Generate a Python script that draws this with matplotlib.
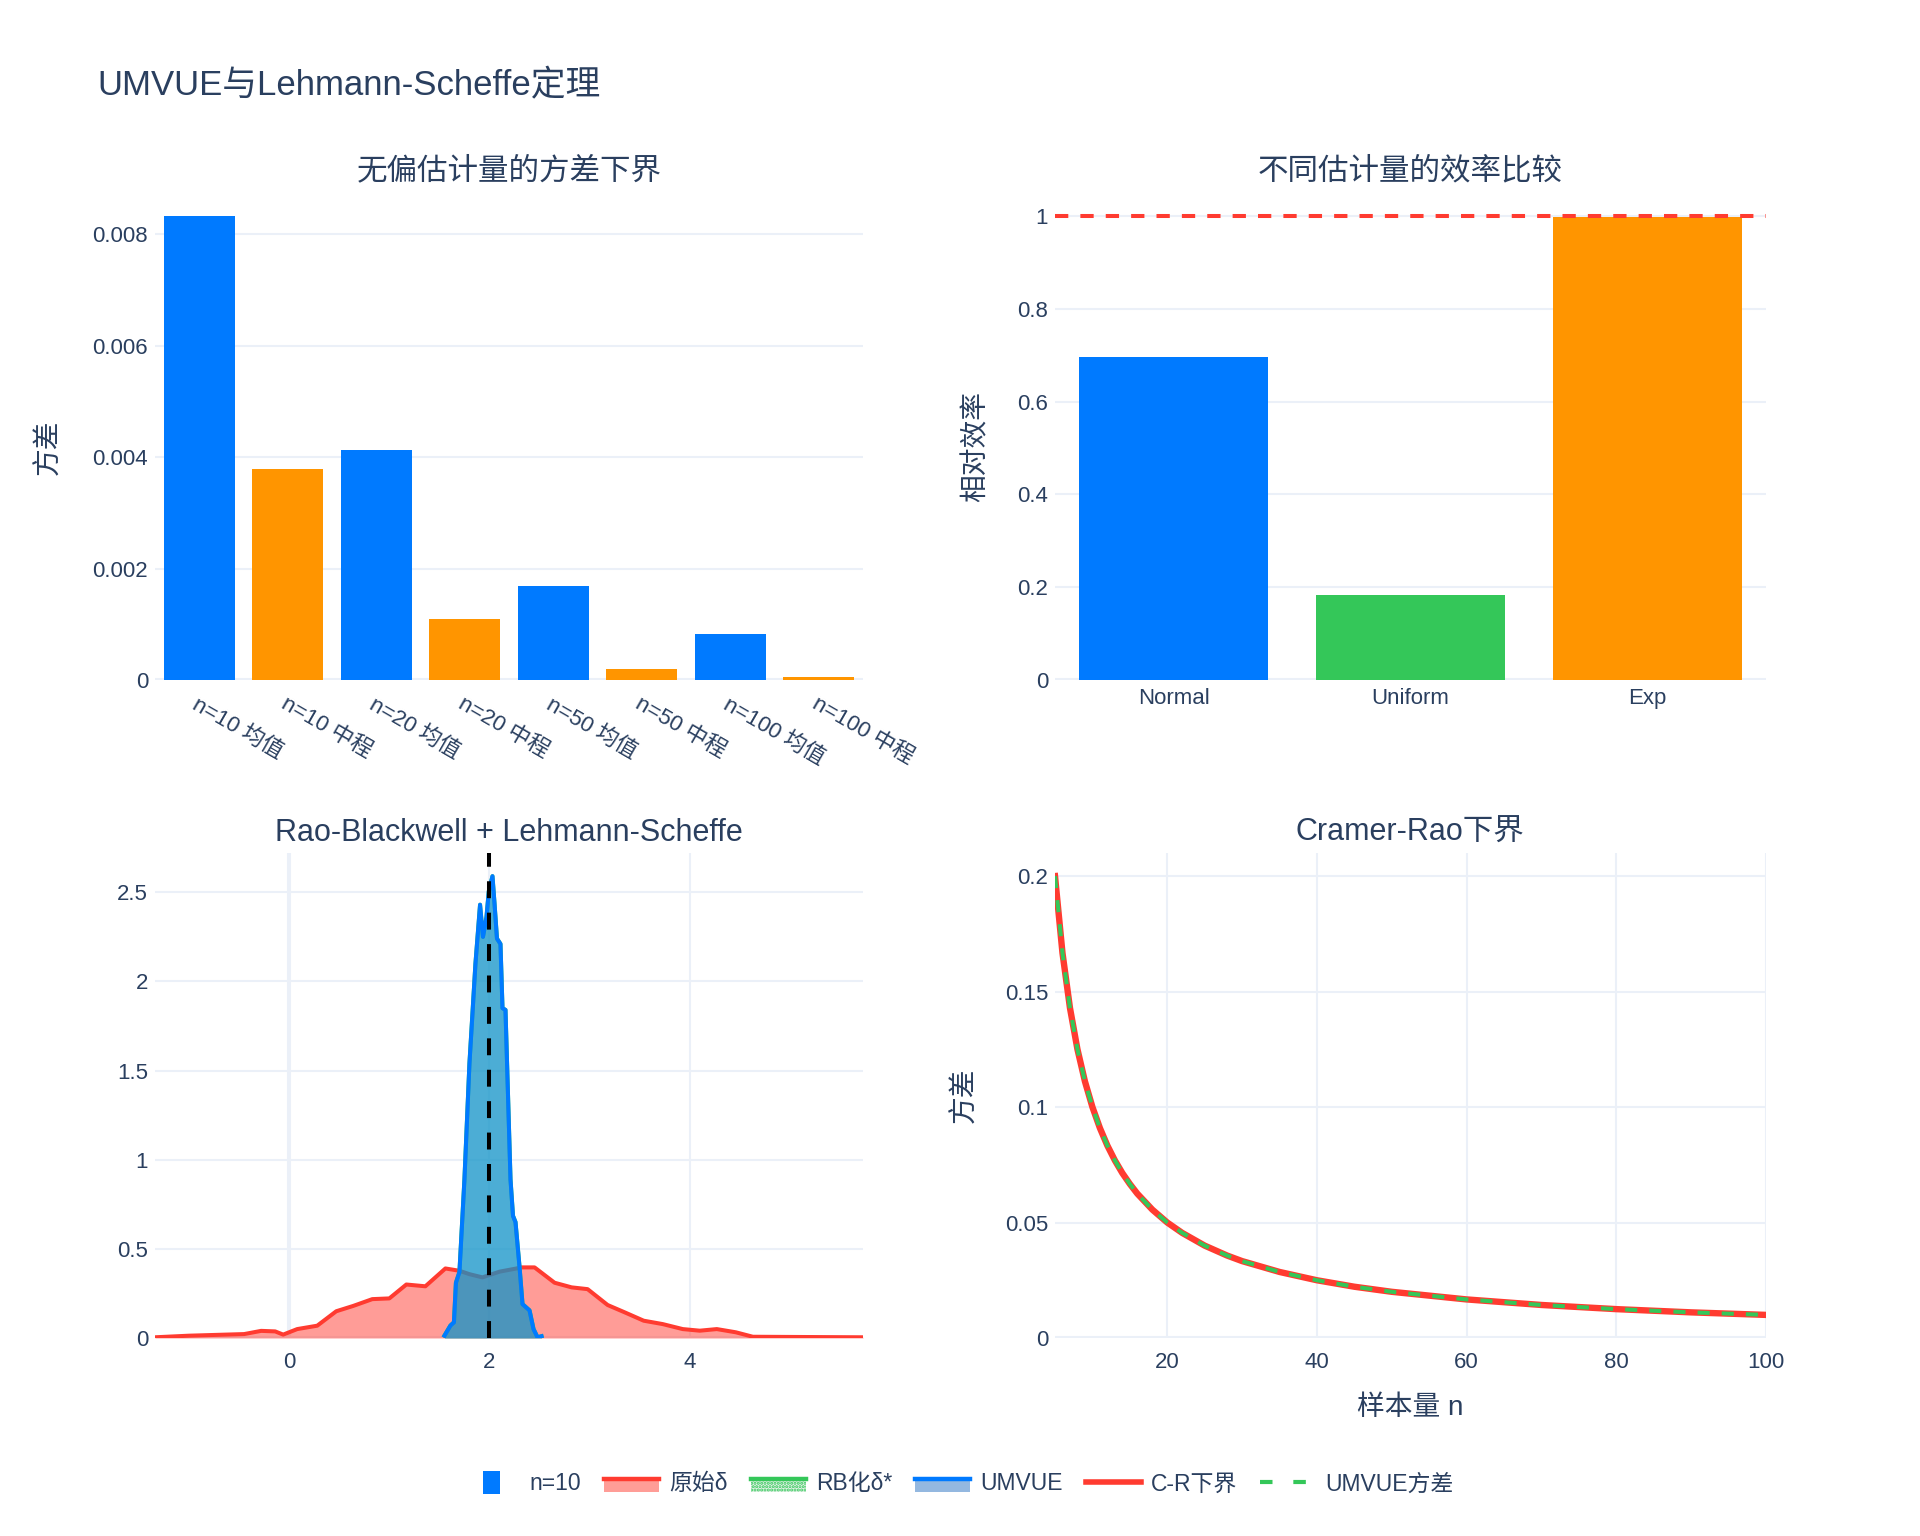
import matplotlib
matplotlib.use('Agg')
import matplotlib.pyplot as plt
from matplotlib.patches import Rectangle
from matplotlib.lines import Line2D
from matplotlib.legend_handler import HandlerBase
from matplotlib.ticker import FuncFormatter

plt.rcParams['font.family'] = ['Liberation Sans', 'Noto Sans CJK SC']

TEXT = '#2a3f5f'
GRID = '#EBF0F8'
BLUE = '#007AFF'
ORANGE = '#FF9500'
GREEN = '#34C759'
RED = '#FF3B30'

# --- data ---
var_labels = ['n=10 均值', 'n=10 中程', 'n=20 均值', 'n=20 中程',
              'n=50 均值', 'n=50 中程', 'n=100 均值', 'n=100 中程']
var_values = [0.00833, 0.00379, 0.00412, 0.00110, 0.00168, 0.00019, 0.00082, 0.00005]

eff_labels = ['Normal', 'Uniform', 'Exp']
eff_values = [0.696, 0.183, 0.997]

# density of the raw estimator delta
raw_x = [-1.34, -1.0, -0.45, -0.28, -0.14, -0.06, 0.08, 0.28, 0.47, 0.64, 0.83, 1.0,
         1.17, 1.36, 1.56, 1.70, 1.80, 1.93, 2.10, 2.27, 2.31, 2.45, 2.65, 2.82,
         2.98, 3.18, 3.35, 3.54, 3.73, 3.93, 4.10, 4.27, 4.46, 4.63, 5.73]
raw_y = [0.004, 0.013, 0.022, 0.04, 0.037, 0.019, 0.05, 0.069, 0.15, 0.18, 0.218, 0.222,
         0.30, 0.29, 0.39, 0.377, 0.358, 0.34, 0.372, 0.39, 0.396, 0.396, 0.31, 0.284,
         0.274, 0.185, 0.144, 0.097, 0.078, 0.05, 0.041, 0.05, 0.032, 0.007, 0.004]

# Rao-Blackwellised estimator and UMVUE (they coincide)
umvue_x = [1.55, 1.61, 1.645, 1.665, 1.70, 1.75, 1.80, 1.86, 1.906, 1.935, 1.97, 1.993,
           2.03, 2.05, 2.075, 2.11, 2.13, 2.16, 2.21, 2.235, 2.26, 2.30, 2.33, 2.40,
           2.44, 2.48, 2.52]
umvue_y = [0.013, 0.07, 0.088, 0.31, 0.37, 0.89, 1.54, 2.10, 2.43, 2.25, 2.36, 2.505,
           2.59, 2.44, 2.24, 2.21, 1.85, 1.84, 0.89, 0.685, 0.65, 0.40, 0.19, 0.155,
           0.05, 0.004, 0.01]
rb_x = umvue_x
rb_y = umvue_y
true_theta = 2

n_values = [5, 6, 7, 8, 9, 10, 11, 12, 13, 14, 15, 16, 18, 20, 22, 25, 28, 30,
            35, 40, 45, 50, 60, 70, 80, 90, 100]
cr_bound = [0.2, 0.1667, 0.1429, 0.125, 0.1111, 0.1, 0.0909, 0.0833, 0.0769, 0.0714,
            0.0667, 0.0625, 0.0556, 0.05, 0.0455, 0.04, 0.0357, 0.0333, 0.0286, 0.025,
            0.0222, 0.02, 0.0167, 0.0143, 0.0125, 0.0111, 0.01]
umvue_var = [0.2, 0.1667, 0.1429, 0.125, 0.1111, 0.1, 0.0909, 0.0833, 0.0769, 0.0714,
             0.0667, 0.0625, 0.0556, 0.05, 0.0455, 0.04, 0.0357, 0.0333, 0.0286, 0.025,
             0.0222, 0.02, 0.0167, 0.0143, 0.0125, 0.0111, 0.01]

W, H = 1920, 1536
fig = plt.figure(figsize=(W / 100, H / 100), dpi=100)


def px_rect(l, t, r, b):
    return [l / W, 1 - b / H, (r - l) / W, (b - t) / H]


def style(ax):
    for s in ax.spines.values():
        s.set_visible(False)
    ax.tick_params(length=0, labelsize=16, labelcolor=TEXT, pad=5)
    ax.grid(True, color=GRID, lw=1.5)
    ax.set_axisbelow(True)
    ax.yaxis.set_major_formatter(FuncFormatter(lambda v, p: f'{v:g}'))
    ax.xaxis.set_major_formatter(FuncFormatter(lambda v, p: f'{v:g}'))


ax1 = fig.add_axes(px_rect(155, 214, 863, 680))
ax2 = fig.add_axes(px_rect(1055, 214, 1766, 680))
ax3 = fig.add_axes(px_rect(155, 853, 863, 1338))
ax4 = fig.add_axes(px_rect(1055, 853, 1766, 1338))
for a in (ax1, ax2, ax3, ax4):
    style(a)

# top left: variances
pos1 = list(range(len(var_labels)))
ax1.bar(pos1, var_values, width=0.8, color=[BLUE, ORANGE] * 4, zorder=2)
ax1.axhline(0, color=GRID, lw=2.9, zorder=1)
ax1.set_xlim(-0.5, 7.5)
ax1.set_ylim(0, 0.00836)
ax1.set_yticks([0, 0.002, 0.004, 0.006, 0.008])
ax1.grid(axis='x', visible=False)
ax1.set_xticks(pos1)
ax1.set_xticklabels(var_labels, rotation=-30, ha='left', va='top', rotation_mode='anchor')
ax1.tick_params(axis='x', pad=10)

# top right: efficiency
pos2 = list(range(len(eff_labels)))
ax2.bar(pos2, eff_values, width=0.8, color=[BLUE, GREEN, ORANGE], zorder=2)
ax2.axhline(0, color=GRID, lw=2.9, zorder=1)
ax2.axhline(1, color=RED, lw=2.9, ls=(0, (3.3, 3)), zorder=3, clip_on=False)
ax2.set_xlim(-0.5, 2.5)
ax2.set_ylim(0, 1.004)
ax2.set_yticks([0, 0.2, 0.4, 0.6, 0.8, 1])
ax2.grid(axis='x', visible=False)
ax2.set_xticks(pos2)
ax2.set_xticklabels(eff_labels)
ax2.tick_params(axis='x', pad=6)

# bottom left: densities
ax3.axhline(0, color=GRID, lw=2.9, zorder=1)
ax3.axvline(0, color=GRID, lw=2.9, zorder=1)
ax3.fill_between(raw_x, raw_y, color=RED, alpha=0.5, lw=0, zorder=2)
ax3.plot(raw_x, raw_y, color=RED, lw=2.9, zorder=2)
ax3.fill_between(rb_x, rb_y, color=GREEN, alpha=0.5, lw=0, zorder=3)
ax3.plot(rb_x, rb_y, color=GREEN, lw=2.9, zorder=3)
ax3.fill_between(umvue_x, umvue_y, color=BLUE, alpha=0.5, lw=0, zorder=4)
ax3.plot(umvue_x, umvue_y, color=BLUE, lw=2.9, zorder=4)
ax3.axvline(true_theta, color='black', lw=2.9, ls=(0, (4.2, 3.6)), zorder=5, clip_on=False)
ax3.set_xlim(-1.34, 5.73)
ax3.set_ylim(0, 2.72)
ax3.set_xticks([0, 2, 4])
ax3.set_yticks([0, 0.5, 1, 1.5, 2, 2.5])
ax3.tick_params(axis='x', pad=10)

# bottom right: Cramer-Rao bound
ax4.axhline(0, color=GRID, lw=2.9, zorder=1)
ax4.plot(n_values, cr_bound, color=RED, lw=4.6, zorder=2)
ax4.plot(n_values, umvue_var, color=GREEN, lw=2.9, ls=(0, (3, 3)), zorder=3)
ax4.set_xlim(5, 100)
ax4.set_ylim(0, 0.21)
ax4.set_xticks([20, 40, 60, 80, 100])
ax4.set_yticks([0, 0.05, 0.1, 0.15, 0.2])
ax4.tick_params(axis='x', pad=10)

# titles and axis titles
fig.text(97 / W, 1 - 86 / H, 'UMVUE与Lehmann-Scheffe定理', fontsize=25, color=TEXT,
         ha='left', va='center')
sub_titles = [('无偏估计量的方差下界', 509, 171), ('不同估计量的效率比较', 1410, 171),
              ('Rao-Blackwell + Lehmann-Scheffe', 509, 833), ('Cramer-Rao下界', 1410, 833)]
for t, x, y in sub_titles:
    fig.text(x / W, 1 - y / H, t, fontsize=22, color=TEXT, ha='center', va='center')

fig.text(49 / W, 1 - 447 / H, '方差', fontsize=20, color=TEXT, rotation=90, ha='center', va='center')
fig.text(976 / W, 1 - 447 / H, '相对效率', fontsize=20, color=TEXT, rotation=90, ha='center', va='center')
fig.text(965 / W, 1 - 1095 / H, '方差', fontsize=20, color=TEXT, rotation=90, ha='center', va='center')
fig.text(1410 / W, 1 - 1408 / H, '样本量 n', fontsize=20, color=TEXT, ha='center', va='center')


# legend
class FillKey:
    def __init__(self, fill, line, hatch=None, hatch_color='none'):
        self.fill = fill
        self.line = line
        self.hatch = hatch
        self.hatch_color = hatch_color


class BarKey:
    def __init__(self, color):
        self.color = color


class FillHandler(HandlerBase):
    def create_artists(self, legend, key, xd, yd, w, h, fs, trans):
        y0 = -yd - 0.1 * h
        r = Rectangle((-xd, y0), w, 0.75 * h, facecolor=key.fill, edgecolor=key.hatch_color,
                      hatch=key.hatch, lw=0, transform=trans)
        ln = Line2D([-xd, -xd + w], [y0 + 0.8 * h] * 2, color=key.line, lw=3.2, transform=trans)
        return [r, ln]


class BarHandler(HandlerBase):
    def create_artists(self, legend, key, xd, yd, w, h, fs, trans):
        bw, bh = 12, 16
        r = Rectangle((-xd + w / 2 - bw / 2, -yd + h / 2 - bh / 2), bw, bh,
                      facecolor=key.color, lw=0, transform=trans)
        return [r]


plt.rcParams['hatch.linewidth'] = 1.5
handles = [BarKey(BLUE),
           FillKey('#ff9d97', RED),
           FillKey('#e3f3e7', GREEN, hatch='.....', hatch_color=GREEN),
           FillKey('#94b8e0', BLUE),
           Line2D([], [], color=RED, lw=4),
           Line2D([], [], color=GREEN, lw=3, ls=(0, (3, 5)))]
labels = ['n=10', '原始δ', 'RB化δ*', 'UMVUE', 'C-R下界', 'UMVUE方差']
leg = fig.legend(handles, labels, loc='center', bbox_to_anchor=(0.4995, 1 - 1484 / H),
                 ncol=6, frameon=False, fontsize=16.5, handlelength=2.4,
                 handletextpad=0.45, columnspacing=1.0,
                 handler_map={FillKey: FillHandler(), BarKey: BarHandler()})
for t in leg.get_texts():
    t.set_color(TEXT)

fig.savefig('out.png', dpi=100, facecolor='white')
